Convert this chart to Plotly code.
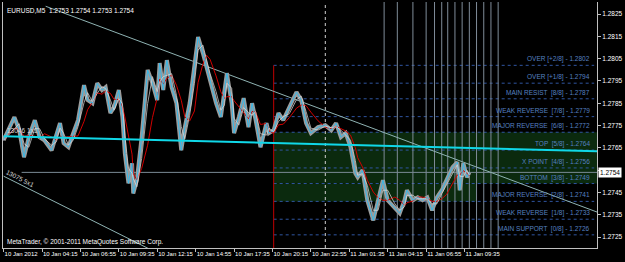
import plotly.graph_objects as go
import pandas as pd

# ---------------- data ----------------
bars = [0, 9, 13, 17, 21, 26, 30, 34, 40, 44, 47, 50, 54, 58, 62, 67, 70, 74, 78, 82,
        85, 89, 92, 96, 99, 101, 104, 107, 108, 111, 115, 120, 124, 128, 130, 133, 136, 140, 144, 148,
        151, 155, 159, 162, 166, 169, 172, 177, 181, 184, 186, 190, 192, 196, 200, 204, 207, 210, 214, 219,
        221, 225, 229, 233, 238, 244, 248, 252, 256, 262, 268, 273, 277, 281, 285, 289, 293, 295, 299, 303,
        308, 312, 316, 320, 326, 330, 334, 336, 341, 345, 349, 353, 357, 361, 365, 369, 374, 378, 380, 383,
        386, 388]
close = [1.27684, 1.27788, 1.27729, 1.27608, 1.27698, 1.27774, 1.27698, 1.27684, 1.27639, 1.27716,
         1.27761, 1.27671, 1.27653, 1.27716, 1.27774, 1.27931, 1.27864, 1.27850, 1.27940, 1.27909,
         1.27922, 1.27806, 1.27832, 1.27909, 1.27788, 1.27626, 1.27491, 1.27581, 1.27446, 1.27505,
         1.27698, 1.27999, 1.27940, 1.27864, 1.28030, 1.27909, 1.28043, 1.27922, 1.27850, 1.27639,
         1.27743, 1.27850, 1.28030, 1.28147, 1.28075, 1.28012, 1.27954, 1.27850, 1.27788, 1.27895,
         1.27985, 1.27850, 1.27716, 1.27788, 1.27873, 1.27743, 1.27850, 1.27774, 1.27653, 1.27761,
         1.27716, 1.27729, 1.27806, 1.27774, 1.27832, 1.27900, 1.27864, 1.27761, 1.27716, 1.27743,
         1.27752, 1.27729, 1.27761, 1.27698, 1.27716, 1.27653, 1.27536, 1.27518, 1.27550, 1.27415,
         1.27325, 1.27415, 1.27505, 1.27415, 1.27383, 1.27357, 1.27415, 1.27460, 1.27415, 1.27428,
         1.27415, 1.27428, 1.27370, 1.27428, 1.27460, 1.27505, 1.27563, 1.27586, 1.27460, 1.27581,
         1.27518, 1.27540]

tick_bars = [0, 32, 64, 96, 128, 160, 192, 224, 256, 288, 320, 352, 384]
tick_labels = ["10 Jan 2012", "10 Jan 04:15", "10 Jan 06:55", "10 Jan 09:35", "10 Jan 12:15",
               "10 Jan 14:55", "10 Jan 17:35", "10 Jan 20:15", "10 Jan 22:55", "11 Jan 01:35",
               "11 Jan 04:15", "11 Jan 06:55", "11 Jan 09:35"]
price_ticks = [1.2725, 1.2735, 1.2745, 1.2755, 1.2765, 1.2775, 1.2785, 1.2795, 1.2805, 1.2815, 1.2825]
price_tick_labels = ["1.2725", "1.2735", "1.2745", "", "1.2765", "1.2775", "1.2785", "1.2795",
                     "1.2805", "1.2815", "1.2825"]

mm_names = ["OVER [+2/8]", "OVER [+1/8]", "MAIN RESIST  [8/8]", "WEAK REVERSE  [7/8]",
            "MAJOR REVERSE  [6/8]", "TOP  [5/8]", "X POINT  [4/8]", "BOTTOM  [3/8]",
            "MAJOR REVERSE  [2/8]", "WEAK REVERSE  [1/8]", "MAIN SUPPORT  [0/8]", "OVER [-1/8]"]
mm_levels = [1.2802, 1.2794, 1.2787, 1.2779, 1.2772, 1.2764, 1.2756, 1.2749, 1.2741, 1.2733, 1.2726, 1.2718]
mm_start_bar = 225
mm_end_bar = 492
mm_label_bar = 490
zone_top = 1.2772
zone_bottom = 1.2749
zone2_bottom = 1.2741
zone2_end_bar = 394

bid = 1.2754
bid_start_bar = 15
time_lines = [317, 328, 341, 352, 359, 365, 370, 376, 382, 388, 394, 400, 406, 412]
dotted_line_bar = 268

trend1_bars = [35, 495]
trend1_prices = [1.28285, 1.27361]
gann1_bars = [0, 495]
gann1_prices = [1.27702, 1.27635]
gann2_bars = [0, 135]
gann2_prices = [1.27523, 1.27160]

x_range = [-0.5, 494.35]
y_range = [1.27201, 1.28304]

FONT = "Liberation Sans"

# ---------------- figure ----------------
fig = go.Figure()

# green zones
fig.add_shape(type="rect", xref="x", yref="y", x0=mm_start_bar, x1=x_range[1],
              y0=zone_bottom, y1=zone_top, fillcolor="#0b2a0e", line_width=0, layer="below")
fig.add_shape(type="rect", xref="x", yref="y", x0=mm_start_bar, x1=zone2_end_bar,
              y0=zone2_bottom, y1=zone_bottom, fillcolor="#0b2a0e", line_width=0, layer="below")

# murray math dotted levels
for lv in mm_levels:
    fig.add_trace(go.Scatter(x=[mm_start_bar, mm_end_bar], y=[lv, lv], mode="lines",
                             line=dict(color="#2f55a0", width=1, dash="dot"),
                             hoverinfo="skip", showlegend=False))

# vertical time lines
for b in time_lines:
    fig.add_trace(go.Scatter(x=[b, b], y=y_range, mode="lines",
                             line=dict(color="#7f8c99", width=1),
                             hoverinfo="skip", showlegend=False))
fig.add_trace(go.Scatter(x=[dotted_line_bar, dotted_line_bar], y=y_range, mode="lines",
                         line=dict(color="#d0d0d0", width=1, dash="dot"),
                         hoverinfo="skip", showlegend=False))
fig.add_trace(go.Scatter(x=[mm_start_bar, mm_start_bar], y=[mm_levels[0], y_range[0]], mode="lines",
                         line=dict(color="#c00000", width=1),
                         hoverinfo="skip", showlegend=False))

# bid line
fig.add_trace(go.Scatter(x=[bid_start_bar, x_range[1]], y=[bid, bid], mode="lines",
                         line=dict(color="#7a8a96", width=1),
                         hoverinfo="skip", showlegend=False))

# trend / gann lines
fig.add_trace(go.Scatter(x=trend1_bars, y=trend1_prices, mode="lines",
                         line=dict(color="#8fb3b3", width=1), hoverinfo="skip", showlegend=False))
fig.add_trace(go.Scatter(x=gann2_bars, y=gann2_prices, mode="lines",
                         line=dict(color="#8fb3b3", width=1), hoverinfo="skip", showlegend=False))

# price (candle band) and the two averages of it
fast_ma = pd.Series(close).rolling(2, min_periods=1).mean().tolist()
slow_ma = pd.Series(close).rolling(4, min_periods=1).mean().tolist()
fig.add_trace(go.Scatter(x=bars, y=close, mode="lines",
                         line=dict(color="#9c9c9c", width=4), hoverinfo="skip", showlegend=False))
fig.add_trace(go.Scatter(x=bars, y=slow_ma, mode="lines",
                         line=dict(color="#d00000", width=1), hoverinfo="skip", showlegend=False))
fig.add_trace(go.Scatter(x=bars, y=close, mode="lines",
                         line=dict(color="#38b8e8", width=1), hoverinfo="skip", showlegend=False))
fig.add_trace(go.Scatter(x=bars, y=fast_ma, mode="lines",
                         line=dict(color="#e0e0e0", width=1), opacity=0.7,
                         hoverinfo="skip", showlegend=False))

fig.add_trace(go.Scatter(x=gann1_bars, y=gann1_prices, mode="lines",
                         line=dict(color="#10d8e8", width=2), hoverinfo="skip", showlegend=False))

# murray labels
for name, lv in zip(mm_names, mm_levels):
    fig.add_annotation(x=mm_label_bar, y=lv, xref="x", yref="y", text=f"{name} - {lv:.4f}",
                       showarrow=False, xanchor="right", yanchor="bottom", yshift=0,
                       font=dict(family=FONT, size=6.5, color="#5680c0"))

# texts
fig.add_annotation(x=0, y=1, xref="paper", yref="paper", xanchor="left", yanchor="top",
                   xshift=2, yshift=-3, showarrow=False,
                   text="EURUSD,M5  1.2753 1.2754 1.2753 1.2754",
                   font=dict(family=FONT, size=6.5, color="#ffffff"))
fig.add_annotation(x=0, y=0, xref="paper", yref="paper", xanchor="left", yanchor="bottom",
                   xshift=2, yshift=0, showarrow=False,
                   text="MetaTrader, © 2001-2011 MetaQuotes Software Corp.",
                   font=dict(family=FONT, size=6.5, color="#ffffff"))
fig.add_annotation(x=1, y=1.2773, xref="x", yref="y", xanchor="left", yanchor="middle",
                   showarrow=False, text="13046 1x1",
                   font=dict(family=FONT, size=6.5, color="#d8d8d8"))
fig.add_annotation(x=14, y=1.27514, xref="x", yref="y", xanchor="center", yanchor="middle",
                   showarrow=False, text="13075 5x1", textangle=27,
                   font=dict(family=FONT, size=6.5, color="#d8d8d8"))
fig.add_annotation(x=1, y=bid, xref="paper", yref="y", xanchor="left", yanchor="middle",
                   xshift=1, showarrow=False, text="1.2754", bgcolor="#ffffff", borderpad=1,
                   font=dict(family=FONT, size=6.5, color="#000000"))

fig.update_layout(
    width=625, height=262,
    margin=dict(l=2, r=23, t=2, b=14),
    paper_bgcolor="#000000", plot_bgcolor="#000000",
    showlegend=False,
    xaxis=dict(range=x_range, tickvals=tick_bars, ticktext=tick_labels, tickangle=0,
               ticklabelposition="outside right", ticks="outside", ticklen=3, tickcolor="#c0c0c0",
               showgrid=False, zeroline=False, showline=True, linecolor="#c0c0c0", linewidth=1,
               tickfont=dict(family=FONT, size=6, color="#ffffff")),
    yaxis=dict(range=y_range, side="right", tickvals=price_ticks, ticktext=price_tick_labels,
               ticks="outside", ticklen=3, tickcolor="#c0c0c0",
               showgrid=False, zeroline=False, showline=True, mirror=True,
               linecolor="#c0c0c0", linewidth=1,
               tickfont=dict(family=FONT, size=6.5, color="#ffffff")),
)

fig.write_html("out.html")
